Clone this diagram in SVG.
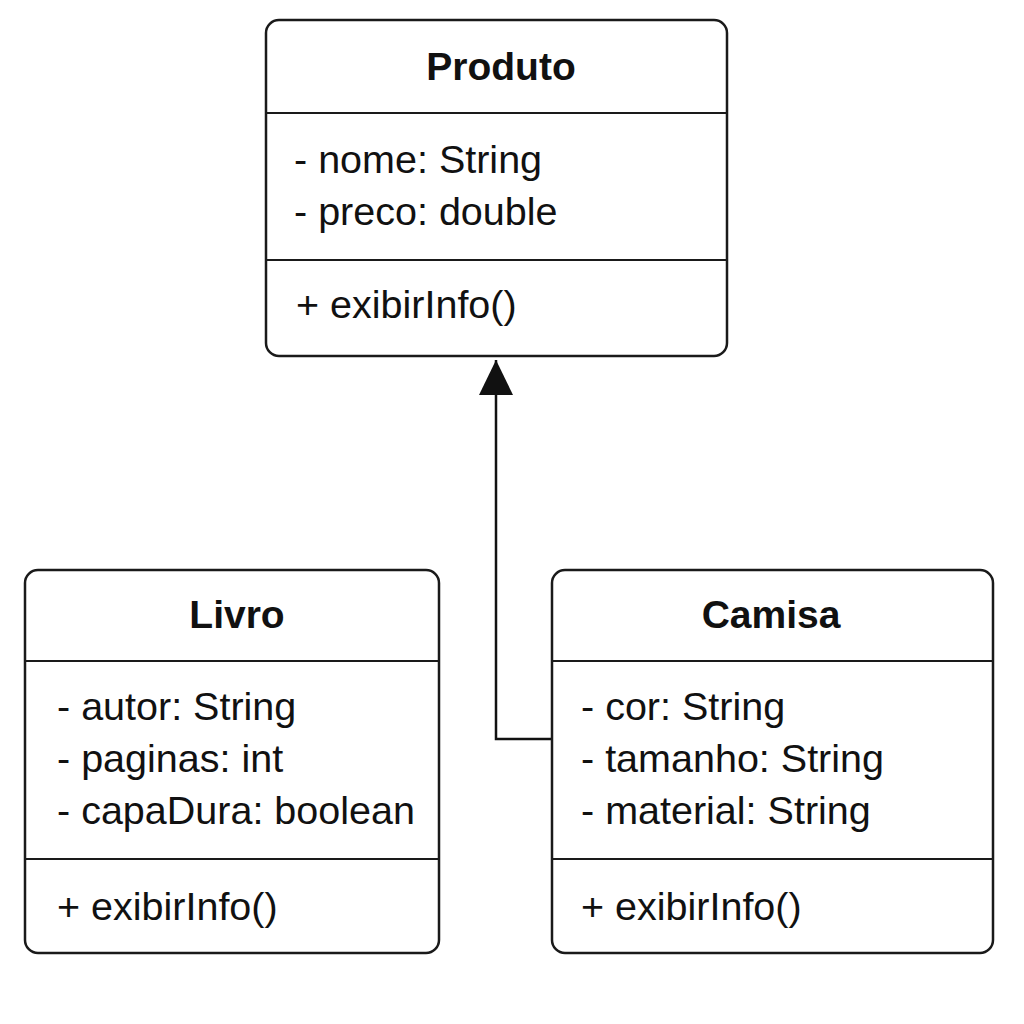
<svg xmlns="http://www.w3.org/2000/svg" width="1024" height="1024" viewBox="0 0 1024 1024">
<style>
.box{fill:#fff;stroke:#1a1a1a;stroke-width:2.5}
.div{stroke:#1a1a1a;stroke-width:2}
.t{font-family:"Liberation Sans",Arial,sans-serif;font-weight:bold;font-size:39px;fill:#111;text-anchor:middle}
.a{font-family:"Liberation Sans",Arial,sans-serif;font-size:39.5px;fill:#111}
.c{stroke:#111;stroke-width:2.5;fill:none}
</style>
<defs>
<marker id="tri" markerWidth="38" markerHeight="34" refX="35" refY="17" orient="auto" markerUnits="userSpaceOnUse">
<path d="M0,0 L35,17 L0,34 Z" fill="#111"/>
</marker>
</defs>
<rect width="1024" height="1024" fill="#fff"/>
<g id="connectors">
<path class="c" d="M552,739 H496 V360" marker-end="url(#tri)"/>
</g>
<g id="produto">
<rect class="box" x="266" y="20" width="461" height="336" rx="13"/>
<line class="div" x1="266" y1="113" x2="727" y2="113"/>
<line class="div" x1="266" y1="260" x2="727" y2="260"/>
<text class="t" x="501" y="80">Produto</text>
<text class="a" x="294" y="173">- nome: String</text>
<text class="a" x="294" y="225">- preco: double</text>
<text class="a" x="296" y="318">+ exibirInfo()</text>
</g>
<g id="livro">
<rect class="box" x="25" y="570" width="414" height="383" rx="13"/>
<line class="div" x1="25" y1="661" x2="439" y2="661"/>
<line class="div" x1="25" y1="859" x2="439" y2="859"/>
<text class="t" x="237" y="628">Livro</text>
<text class="a" x="57" y="720">- autor: String</text>
<text class="a" x="57" y="772">- paginas: int</text>
<text class="a" x="57" y="824">- capaDura: boolean</text>
<text class="a" x="57" y="920">+ exibirInfo()</text>
</g>
<g id="camisa">
<rect class="box" x="552" y="570" width="441" height="383" rx="13"/>
<line class="div" x1="552" y1="661" x2="993" y2="661"/>
<line class="div" x1="552" y1="859" x2="993" y2="859"/>
<text class="t" x="771" y="628">Camisa</text>
<text class="a" x="581" y="720">- cor: String</text>
<text class="a" x="581" y="772">- tamanho: String</text>
<text class="a" x="581" y="824">- material: String</text>
<text class="a" x="581" y="920">+ exibirInfo()</text>
</g>
</svg>
